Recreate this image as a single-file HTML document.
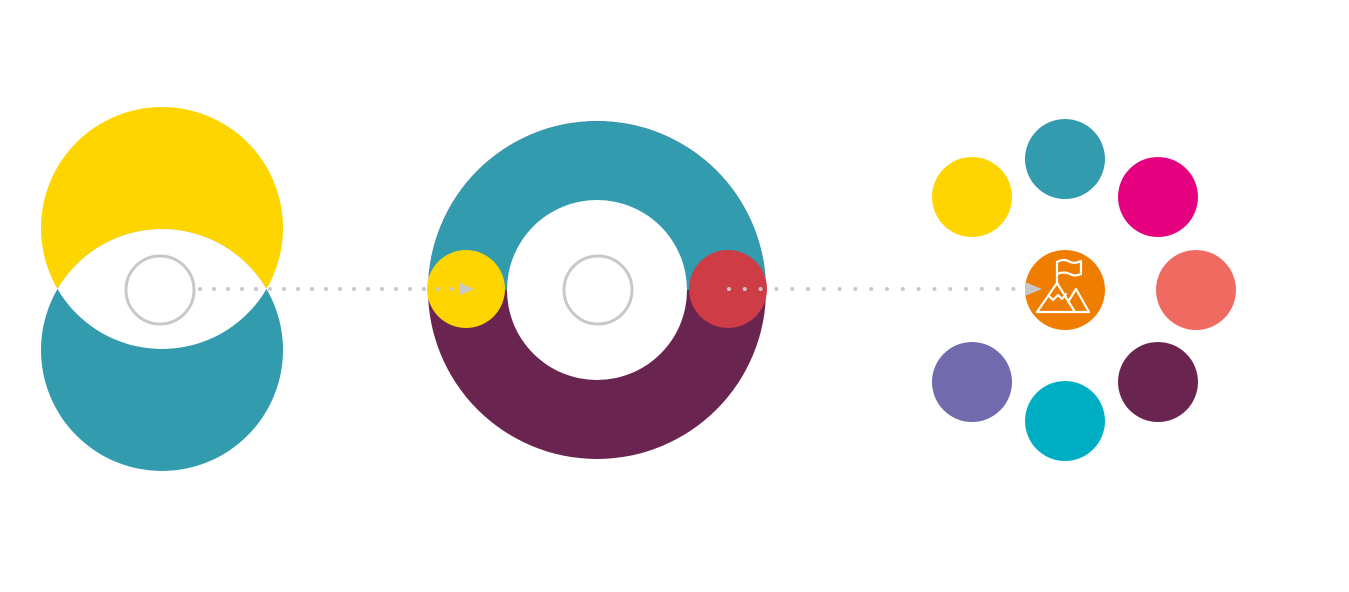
<!DOCTYPE html>
<html><head><meta charset="utf-8"><style>html,body{margin:0;padding:0;background:#fff}svg{display:block}</style></head><body>
<svg width="1349" height="592" viewBox="0 0 1349 592" xmlns="http://www.w3.org/2000/svg">
<defs>
<clipPath id="cy"><circle cx="162" cy="228" r="121"/></clipPath>
<clipPath id="top"><rect x="0" y="0" width="1349" height="290"/></clipPath>
</defs>
<circle cx="162" cy="228" r="121" fill="#FFD500"/>
<circle cx="162" cy="350" r="121" fill="#329BAE"/>
<circle cx="162" cy="350" r="121" fill="#fff" clip-path="url(#cy)"/>
<circle cx="160" cy="290" r="34" fill="#fff" stroke="#c8c8c8" stroke-width="3"/>
<circle cx="597" cy="290" r="169" fill="#69254F"/>
<circle cx="597" cy="290" r="169" fill="#329BAE" clip-path="url(#top)"/>
<circle cx="597" cy="290" r="90" fill="#fff"/>
<circle cx="598" cy="290" r="34" fill="#fff" stroke="#c8c8c8" stroke-width="3"/>
<circle cx="466" cy="289" r="39" fill="#FFD500"/>
<line x1="200" y1="289" x2="455" y2="289" stroke="#c8c8c8" stroke-width="4" stroke-linecap="round" stroke-dasharray="0 14"/>
<polygon points="460,283 474,289 460,295" fill="#c8c8c8"/>
<circle cx="728" cy="289" r="39" fill="#CE3C45"/>
<line x1="729" y1="289" x2="1020" y2="289" stroke="#c8c8c8" stroke-width="4" stroke-linecap="round" stroke-dasharray="0 15.8"/>
<circle cx="972" cy="197" r="40" fill="#FFD500"/>
<circle cx="1065" cy="159" r="40" fill="#329BAE"/>
<circle cx="1158" cy="197" r="40" fill="#E4007F"/>
<circle cx="1196" cy="290" r="40" fill="#EF6B62"/>
<circle cx="1158" cy="382" r="40" fill="#69254F"/>
<circle cx="1065" cy="421" r="40" fill="#00AEC3"/>
<circle cx="972" cy="382" r="40" fill="#716BAE"/>
<circle cx="1065" cy="290" r="40" fill="#EF7D00"/>
<polygon points="1025,282 1042,289 1025,296" fill="#c8c8c8"/>
<g fill="none" stroke="#fff" stroke-width="2.2" stroke-linejoin="round" stroke-linecap="round">
<line x1="1057" y1="262" x2="1057" y2="283"/>
<path d="M1057 262 Q1064 258 1070 262 Q1075 264 1081 261 L1081 274 Q1075 277 1070 274 Q1064 271 1057 274"/>
<path d="M1037 312 L1057 283 L1075 312 Z"/>
<path d="M1068 302 L1076 289 L1089 312 L1075 312"/>
<path d="M1049 296 L1053 300 L1058 295 L1062 299 L1066 294"/>
</g>
</svg>
</body></html>
